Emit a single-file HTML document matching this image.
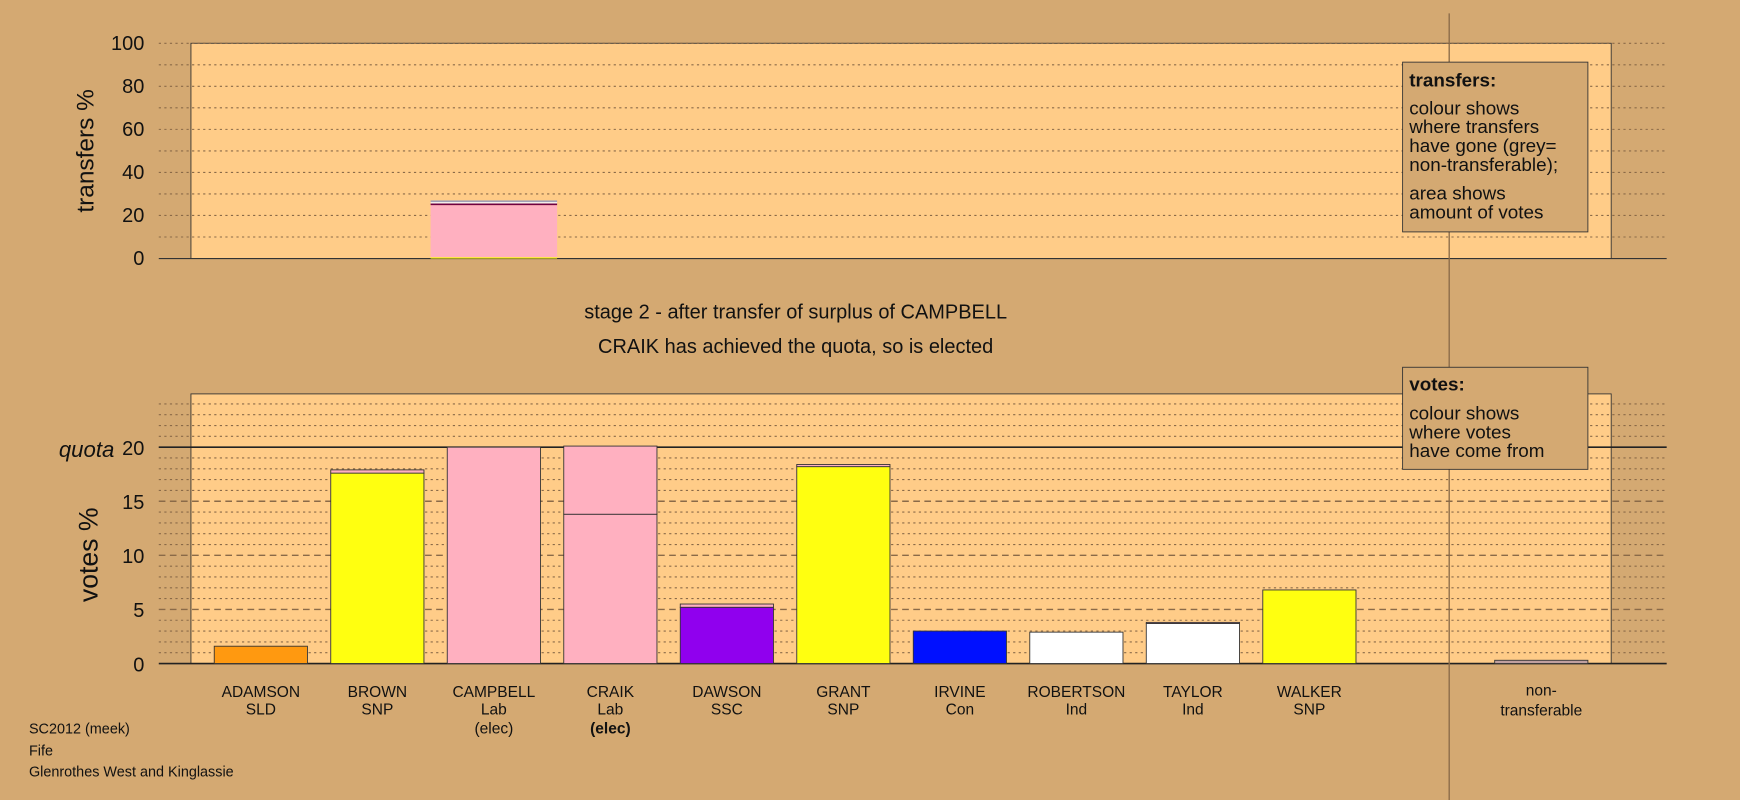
<!DOCTYPE html>
<html><head><meta charset="utf-8"><style>
html,body{margin:0;padding:0;background:#d4a972;}
svg{display:block;font-family:"Liberation Sans",sans-serif;}
</style></head><body>
<svg id="c" width="1740" height="800" viewBox="0 0 1568 721" xmlns="http://www.w3.org/2000/svg">
<rect x="0" y="0" width="1568" height="721" fill="#d4a972"/>
<rect x="172" y="39" width="1280" height="194" fill="#ffcc88" stroke="#333" stroke-width="0.8"/>
<rect x="172" y="355" width="1280" height="243" fill="#ffcc88" stroke="#333" stroke-width="0.8"/>
<g id="topgrid"></g><g id="botgrid"></g><g id="bars"></g><g id="tbars"></g>
<line x1="1306" y1="12" x2="1306" y2="721" stroke="#8a6a48" stroke-width="1.2"/>
<text x="94" y="146" transform="rotate(-90 84 146)" font-size="22" text-anchor="middle" fill="#111">transfers %</text>
<text x="88" y="500" transform="rotate(-90 88 500)" font-size="24" text-anchor="middle" fill="#111">votes %</text>
<text x="103" y="412" font-size="20" font-style="italic" text-anchor="end" fill="#111">quota</text>
<text x="717" y="287" font-size="18" text-anchor="middle" fill="#111">stage 2 - after transfer of surplus of CAMPBELL</text>
<text x="717" y="318" font-size="18" text-anchor="middle" fill="#111">CRAIK has achieved the quota, so is elected</text>
<g>
<rect x="1264" y="56" width="167" height="153" fill="#d4a972" stroke="#333" stroke-width="0.8"/>
<text x="1270" y="78" font-size="17" font-weight="bold" fill="#111">transfers:</text>
<text font-size="17" fill="#111"><tspan x="1270" y="103">colour shows</tspan><tspan x="1270" y="120">where transfers</tspan><tspan x="1270" y="137">have gone (grey=</tspan><tspan x="1270" y="154">non-transferable);</tspan><tspan x="1270" y="180">area shows</tspan><tspan x="1270" y="197">amount of votes</tspan></text>
</g>
<g>
<rect x="1264" y="331" width="167" height="92" fill="#d4a972" stroke="#333" stroke-width="0.8"/>
<text x="1270" y="352" font-size="17" font-weight="bold" fill="#111">votes:</text>
<text font-size="17" fill="#111"><tspan x="1270" y="378">colour shows</tspan><tspan x="1270" y="395">where votes</tspan><tspan x="1270" y="412">have come from</tspan></text>
</g>
<text font-size="13" fill="#111"><tspan x="26" y="661">SC2012 (meek)</tspan><tspan x="26" y="681">Fife</tspan><tspan x="26" y="700">Glenrothes West and Kinglassie</tspan></text>
<g id="labels"></g>
</svg>
<script>
const candidates=["ADAMSON","BROWN","CAMPBELL","CRAIK","DAWSON","GRANT","IRVINE","ROBERTSON","TAYLOR","WALKER"];
const parties=["SLD","SNP","Lab","Lab","SSC","SNP","Con","Ind","Ind","SNP"];
const status=["","","(elec)","(elec)","","","","","",""];
const colours=["#ff9910","#ffff10","#ffb0c0","#ffb0c0","#9000ee","#ffff10","#0010ff","#ffffff","#ffffff","#ffff10"];
const ownVotes=[1.6,17.6,20.0,13.8,5.2,18.2,3.0,2.9,3.7,6.8];
const transferIn=[0,0.3,0,6.3,0.3,0.2,0,0,0.1,0];
const nonTransferable=0.3;
const quota=20;
const transferValues=[0.6,24.2,0.8,0.6,0.8];
const transferColours=["#ffff10","#ffb0c0","#700040","#ffffff","#a0a0b8"];
const voteTicks=[0,5,10,15,20];
const transferTicks=[0,20,40,60,80,100];
const NS="http://www.w3.org/2000/svg";
const yV=v=>598-v*9.75, yT=v=>233-v*1.94;
const xC=i=>235+i*105;
function mk(t,a,p){const e=document.createElementNS(NS,t);for(const k in a)e.setAttribute(k,a[k]);p.appendChild(e);return e;}
const tg=document.getElementById('topgrid'),bg=document.getElementById('botgrid'),bars=document.getElementById('bars'),tb=document.getElementById('tbars'),lb=document.getElementById('labels');
for(let v=10;v<=100;v+=10){const l=mk('line',{x1:143,x2:1502,y1:yT(v),y2:yT(v),stroke:'#8a6a48','stroke-width':1,'stroke-dasharray':'2,3'},tg);

}
mk('line',{x1:143,x2:1502,y1:233,y2:233,stroke:'#333','stroke-width':1},tg);
transferTicks.forEach(v=>{const t=mk('text',{x:130,y:yT(v)+6,'font-size':18,'text-anchor':'end',fill:'#111'},tg);t.textContent=v;

});
for(let v=1;v<=24;v++){const dash=v%5===0&&v<20;const l=mk('line',{x1:143,x2:1502,y1:yV(v),y2:yV(v),stroke:'#8a6a48','stroke-width':dash?1.3:1,'stroke-dasharray':dash?'6,4':'2,3'},bg);

}
const q=mk('line',{x1:143,x2:1502,y1:yV(quota),y2:yV(quota),stroke:'#222','stroke-width':1.5},bg);


mk('line',{x1:143,x2:1502,y1:598,y2:598,stroke:'#222','stroke-width':1.5},bg);
voteTicks.forEach(v=>{const t=mk('text',{x:130,y:yV(v)+7,'font-size':18,'text-anchor':'end',fill:'#111'},bg);t.textContent=v;

});
candidates.forEach((c,i)=>{
 const x=xC(i)-42;
 const r=mk('rect',{x:x,y:yV(ownVotes[i]),width:84,height:ownVotes[i]*9.75,fill:colours[i],stroke:'#333','stroke-width':0.8},bars);
 
 
 if(transferIn[i]>0){const r2=mk('rect',{x:x,y:yV(ownVotes[i]+transferIn[i]),width:84,height:transferIn[i]*9.75,fill:'#ffb0c0',stroke:'#333','stroke-width':0.8},bars);
 
 }
 const t=mk('text',{x:xC(i),'font-size':14,'text-anchor':'middle',fill:'#111'},lb);
 
 
 const a=mk('tspan',{x:xC(i),y:628},t);a.textContent=c;
 const b=mk('tspan',{x:xC(i),y:644},t);b.textContent=parties[i];
 if(status[i]){const s=mk('tspan',{x:xC(i),y:661},t);s.textContent=status[i];if(i===3)s.setAttribute('font-weight','bold');}
});
const nt=mk('rect',{x:1347,y:yV(nonTransferable),width:84,height:nonTransferable*9.75,fill:'#c0a0a0',stroke:'#333','stroke-width':0.8},bars);


const ntl=mk('text',{'font-size':14,'text-anchor':'middle',fill:'#111'},lb);


mk('tspan',{x:1389,y:627},ntl).textContent='non-';
mk('tspan',{x:1389,y:645},ntl).textContent='transferable';
let cum=0;
transferValues.forEach((v,k)=>{const r=mk('rect',{x:388,y:yT(cum+v),width:114,height:v*1.94,fill:transferColours[k]},tb);cum+=v;

});
</script>
</body></html>
